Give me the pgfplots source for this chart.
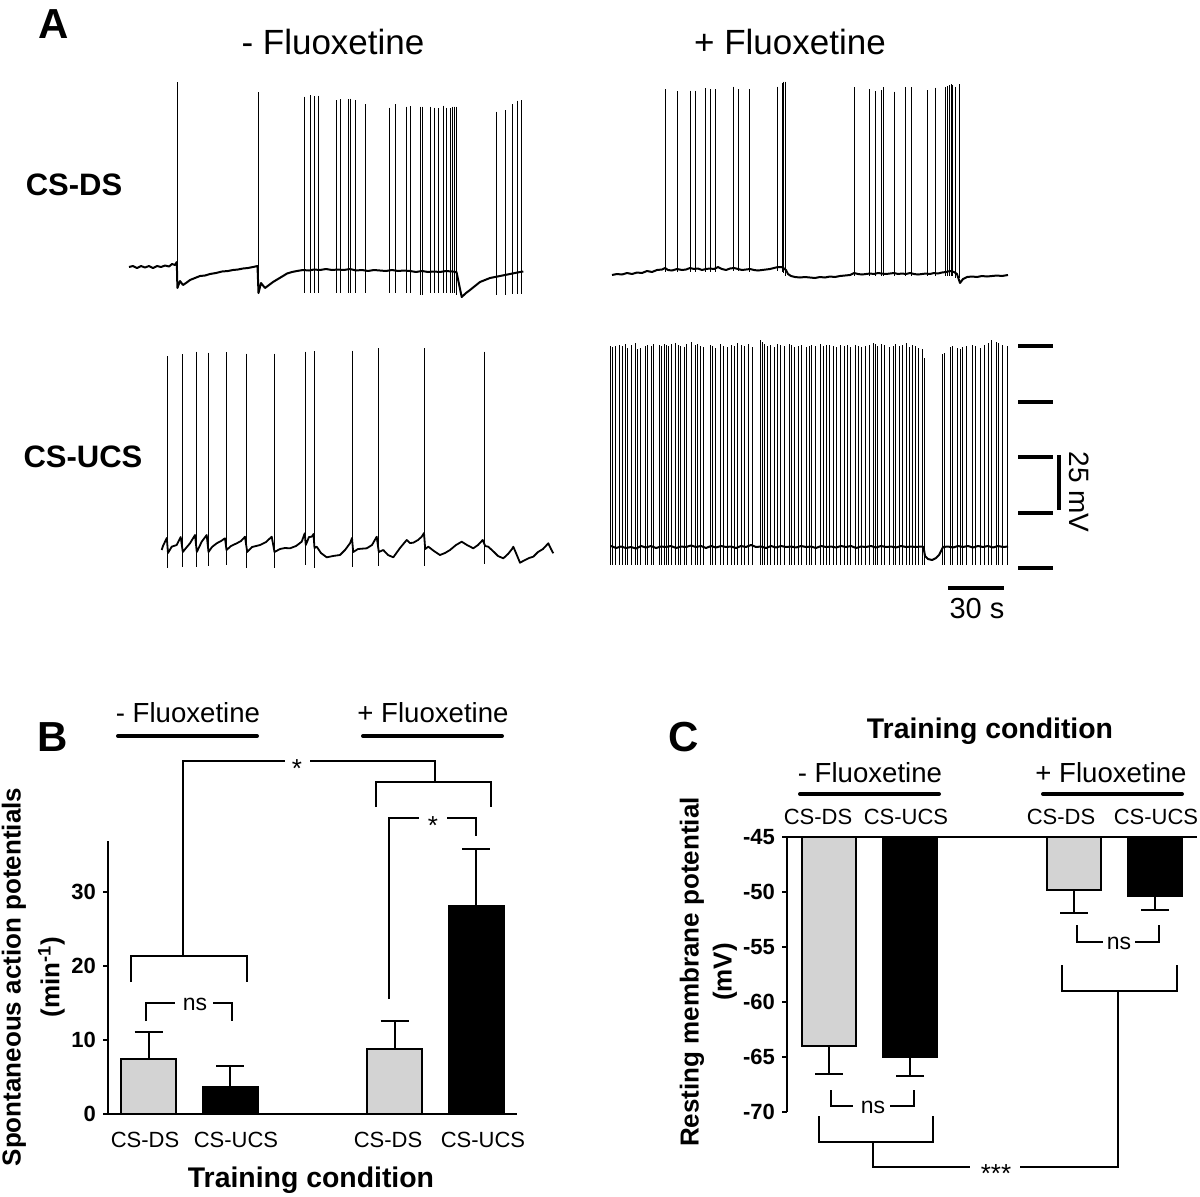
\documentclass[border=0pt]{standalone}
\usepackage{fontspec}
\setmainfont{Liberation Sans}
\usepackage{pgfplots}
\usepackage{pgfplotstable}
\pgfplotsset{compat=1.18}
\definecolor{lg}{RGB}{211,211,211}
\newcommand{\fs}[1]{\fontsize{#1}{#1}\selectfont}

% ---- Trace spikes (pixel coordinates: x, peak, trough) ----
\pgfplotstableread{
x top bot
177 82 288
258 92 293
304 96.7 293
310.7 95 293
314 96 293
318.7 95.7 293
336 100 293
340 99.3 293
348 99.3 293
350.7 98.7 293
355 100 293
365.7 104 293
389.3 107.7 293
395.7 104.3 293
406.3 106.7 293
410 106 293
420.7 106.7 295
422 106.7 295
430.7 106.7 293
434.3 107.7 293
438 108.3 293
443.3 105.7 293
446.7 107.7 293
450 108.3 293
452.7 106.7 293
454.3 106.7 293
456 106.7 295
496.7 111.7 295
505 110 295
512.7 104.3 294
517.7 100.7 294
521 100 294
}\spA

\pgfplotstableread{
x top bot
665 89.3 272
677.7 91 272
690.3 90.7 272
695 90.7 272
705.7 88.3 272
710.3 89.3 272
715.3 89.3 272
733.3 86.7 271
738.7 89.3 271
749 89 272
777.3 86.7 271
782.7 82.7 272
783.7 81.7 273
785 81.7 276
854.3 87.3 276
869.3 89.3 276
875.7 91 276
881 90 276
883 87.3 276
894.7 91.7 276
905 87.3 276
911.7 87.3 276
927.7 90 276
935.3 87.7 276
945.3 87.3 276
947.3 86 276
949.7 85 276
951.3 84.3 276
952.7 85 276
955.3 86.7 278
959.7 84 278
}\spB

\pgfplotstableread{
x top bot
167.3 356 568
182.3 354 567
196.3 351.7 567
208 352.7 566
226 352.3 565
246.7 353.7 568
274 353.7 568
305.3 351.7 565
314 351 568
352.7 350.7 567
378.3 348.3 566
424.7 348.3 566
484.7 351.7 564
}\spC

\pgfplotstableread{
x top
610.7 346
612.3 347
615 346
619 345
622.3 346
625.7 344
627.7 348
631 345
635.7 343
637.7 349
640 348
645 346
647.3 345
651 346
653.3 344
659 345
661 346
664.3 344
666.7 345
668.7 346
671 344
675.3 343
678 345
680.3 346
684 347
686.7 344
691.7 342
695 345
697.3 344
700.3 346
703.7 347
710.7 345
712.7 346
715 348
720 344
723.3 346
727 347
731.3 345
734.3 346
737.7 343
741.7 345
744.3 346
748 344
752.3 347
760.3 340
762 342
764.3 344
767 346
770.3 345
774 347
777.7 344
780 345
784 346
789 344
791.7 345
794.7 347
798.7 346
801 345
806.3 347
809.3 346
811.7 345
815.7 346
820 344
823 346
826 345
829.3 345
833.3 346
836.3 347
840.3 345
844 346
847.3 345
850.3 347
855 345
858.3 346
861.7 347
865.7 346
869.3 345
873.3 343
875.3 344
877.7 346
881.7 344
884.7 345
889 347
893.3 346
895.7 344
899.3 346
902.7 345
906 343
909.3 347
912.7 345
915.3 346
918.3 348
922 349
924.3 358
942.7 354
944 353
950 347
952.3 346
957 348
960 349
962.7 347
966.7 346
972.3 345
975 346
980 348
984.7 345
988.3 343
991.7 340
996 342
998.7 343
1002.7 345
1007.7 346
}\spD

\pgfplotsset{
  errb/.style={
    error bars/y explicit,
    error bars/error mark=|,
    error bars/error bar style={line width=1pt, black, solid},
    error bars/error mark options={black, line width=1pt, mark size=7pt, solid},
  },
}

\begin{document}
\begin{tikzpicture}
\useasboundingbox (0,0) rectangle (600pt,598pt);

% ================= Panel B =================
\begin{axis}[
  at={(54pt,41pt)}, anchor=south west, scale only axis,
  width=204.5pt, height=136.5pt,
  xmin=108, xmax=517, ymin=0, ymax=36.9,
  axis x line*=bottom, axis y line*=left,
  axis line style={line width=1.3pt, black},
  ytick={0,10,20,30}, yticklabels={0,10,20,30},
  yticklabel style={font=\fs{11}\bfseries},
  xtick={145,236,388,483},
  xticklabels={CS-DS,CS-UCS,CS-DS,CS-UCS},
  xticklabel style={font=\fs{11}, yshift=-3pt},
  x tick style={draw=none},
  y tick style={line width=1pt, black},
  tick align=outside, major tick length=2.5pt,
  ybar, bar width=55, bar shift=0pt,
]
\addplot[fill=lg, draw=black, line width=1pt, errb, error bars/y dir=plus]
  coordinates {(148.5,7.4) +- (0,3.7) (394.5,8.8) +- (0,3.8)};
\addplot[fill=black, draw=black, line width=1pt, errb, error bars/y dir=plus]
  coordinates {(230,3.65) +- (0,2.85) (476,28.1) +- (0,7.7)};
\end{axis}

% ================= Panel C =================
\begin{axis}[
  at={(393.5pt,42pt)}, anchor=south west, scale only axis,
  width=205pt, height=137.5pt,
  xmin=787, xmax=1197, ymin=-25, ymax=0,
  axis x line*=top, axis y line*=left,
  axis line style={line width=1.3pt, black},
  ytick={-25,-20,-15,-10,-5,0},
  yticklabels={-70,-65,-60,-55,-50,-45},
  yticklabel style={font=\fs{11}\bfseries},
  xtick={818,906,1061,1156},
  xticklabels={CS-DS,CS-UCS,CS-DS,CS-UCS},
  xticklabel style={font=\fs{11}},
  x tick style={draw=none},
  y tick style={line width=1pt, black},
  tick align=outside, major tick length=2.5pt,
  ybar, bar width=54, bar shift=0pt,
]
\addplot[fill=lg, draw=black, line width=1pt, errb, error bars/y dir=minus]
  table[x=x, y expr=\thisrow{v}+45, y error=e] {
x v e
828.5 -64.0 2.5
1073.5 -49.8 2.1
};
\addplot[fill=black, draw=black, line width=1pt, errb, error bars/y dir=minus]
  table[x=x, y expr=\thisrow{v}+45, y error=e] {
x v e
910 -65.0 1.7
1155 -50.4 1.2
};
\end{axis}

% ================= Overlay (pixel coordinates) =================
\begin{axis}[
  at={(0pt,0pt)}, anchor=south west, scale only axis,
  width=600pt, height=598pt,
  xmin=0, xmax=1200, ymin=0, ymax=1196, y dir=reverse,
  hide axis, clip=false,
]
% ---- trace 1 (CS-DS, - fluoxetine) ----
\addplot[black, line width=1pt, mark=none, line join=round] coordinates {
(129,267)(133,266)(137,268)(141,266)(145,267.5)(149,266)(153,268)(157,266)(161,267)(165,265.5)(169,266.5)(172,264)(175,265)(176.8,262)(177.4,288)(180,281)(183,285)(186,283)(190,280)(195,278)(200,276)(205,275.5)(210,274)(216,273)(222,271.5)(228,271)(233,270)(238,269.5)(243,268.5)(248,268)(253,267)(257.5,266)(258.5,293)(261,283)(265,288)(269,285)(273,282)(278,279)(283,276)(287,273.5)(292,272)(297,271)(303,270)(309,270.5)(314,269.5)(320,270)(326,269)(332,270)(338,269.5)(344,270)(350,269)(356,270.5)(362,270)(368,271)(374,270)(380,270.5)(386,271)(392,270)(398,271)(404,270.5)(410,271)(416,272)(422,271)(428,272)(434,271.5)(440,272)(446,271)(452,271.5)(456.5,272)(461.7,297)(466,293)(470,290)(475,286)(480,282)(485,280)(490,278)(495,277)(500,276)(505,275)(510,274)(515,273)(520,272)(523.3,271.5)
};
\addplot[draw=none, mark=none, error bars/.cd, y dir=plus, y explicit, error mark=none,
  error bar style={draw=black, line width=0.5pt}]
  table[x=x, y=top, y error expr=\thisrow{bot}-\thisrow{top}] {\spA};

% ---- trace 2 (CS-DS, + fluoxetine) ----
\addplot[black, line width=1pt, mark=none, line join=round] coordinates {
(612,275)(617,274)(622,274.5)(627,273)(632,274)(637,272.5)(642,273)(647,271)(652,272)(657,270)(662,269.5)(665,268)(668,270)(672,270.5)(677,269)(682,270)(686,269.5)(690,268)(694,269)(698,268.5)(702,270)(706,269)(710,268.5)(714,269)(718,267)(722,269)(726,270)(730,268.5)(734,268)(738,269)(742,270)(746,269.5)(750,269)(754,270)(758,270.5)(762,270)(766,269.5)(770,269)(774,268)(778,267)(782,267)(786,270)(788,274)(791,276)(795,277)(800,277.5)(805,277)(810,277.5)(815,278)(820,277)(825,277.5)(830,276.5)(835,277)(840,276)(845,275.5)(850,275)(854,273)(858,274)(862,274.5)(866,274)(870,273.5)(874,274)(878,273)(882,273.5)(886,274)(890,273.5)(894,273)(898,274)(902,273.5)(906,274)(910,273)(914,274)(918,274.5)(922,274)(926,273.5)(930,274)(934,273)(938,273.5)(942,272.5)(946,272)(950,271)(954,272)(957,274)(960,283)(963,279)(967,277)(972,276.5)(977,277)(982,276)(987,276.5)(992,276)(997,275.5)(1002,276)(1008,275)
};
\addplot[draw=none, mark=none, error bars/.cd, y dir=plus, y explicit, error mark=none,
  error bar style={draw=black, line width=0.5pt}]
  table[x=x, y=top, y error expr=\thisrow{bot}-\thisrow{top}] {\spB};

% ---- trace 3 (CS-UCS, - fluoxetine) ----
\addplot[black, line width=0.9pt, mark=none, line join=round] coordinates {
(161.7,550)(163,546)(165,541.7)(166.8,538)(168,553)(171.7,546.7)(176.7,545)(180.7,537)(182.8,552)(186,548)(190,543.3)(195,535)(196.8,552)(201.7,541.7)(206.7,535)(208.5,552)(212,547)(216.7,543.3)(221,541)(225,538.3)(226.5,550)(231,546)(236.7,543.3)(241,541)(245,536.7)(247.2,552)(252,547)(260,545)(266,542)(271.7,536.7)(274.5,552)(280,549)(285,548)(290,548.3)(296,546)(301.7,541.7)(304.7,533.3)(305.8,545)(309,537)(311.7,536.7)(313.5,534)(314.5,548)(316.7,546.7)(321,553)(326.7,557.3)(333,556)(340,555)(345,550)(350,543.3)(352,538)(353.2,552)(358,549)(366.7,548.3)(372,545)(376.7,536.7)(378.8,552)(383.3,550)(388,555)(393.3,557.3)(400,548)(406.7,540)(410,543)(413.3,542.7)(418,540)(421.7,536.7)(424,533)(425.2,549)(428.3,546.7)(434,551)(440,555)(445,553)(450,550)(456,545)(461.7,541.7)(467,545)(473.3,548.3)(478,545)(482.7,540)(485.2,546)(488.3,546.7)(494,552)(498,556)(503.3,558.3)(508,554)(512,549)(513.3,546.7)(516,553)(520,562.7)(525,560)(529,558)(533.3,556.7)(538,552)(543,549)(548.3,543.3)(551,549)(553.3,553.3)
};
\addplot[draw=none, mark=none, error bars/.cd, y dir=plus, y explicit, error mark=none,
  error bar style={draw=black, line width=0.5pt}]
  table[x=x, y=top, y error expr=\thisrow{bot}-\thisrow{top}] {\spC};

% ---- trace 4 (CS-UCS, + fluoxetine) ----
\addplot[black, line width=1pt, mark=none, line join=round] coordinates {
(611,546)(616,548)(621,546.5)(626,548)(631,547)(636,548.5)(641,546)(646,547.5)(651,546)(656,548)(661,546.5)(666,547)(671,546)(676,548)(681,546.5)(686,547)(691,545.5)(696,547)(701,546)(706,548)(711,546)(716,547.5)(721,546)(726,547)(731,546.5)(736,548)(741,546)(746,547)(751,545)(756,547)(761,546.5)(766,548)(771,546)(776,547.5)(781,546)(786,547)(791,546.5)(796,547.5)(801,546)(806,547)(811,546.5)(816,548)(821,546)(826,547)(831,546.5)(836,547.5)(841,546)(846,547)(851,546)(856,548)(861,546.5)(866,547)(871,546)(876,547.5)(881,546)(886,547)(891,546.5)(896,547.5)(901,546)(906,547)(911,546.5)(916,547)(921,546.5)(923.5,547)(925,556)(928,559)(932,560)(936,558)(939,555)(941.5,550)(943,547)(948,546.5)(953,547.5)(958,546)(963,547)(968,546)(973,547.5)(978,546)(983,547)(988,546)(993,547.5)(998,546)(1003,547)(1008,546.5)
};
\addplot[draw=none, mark=none, error bars/.cd, y dir=plus, y explicit, error mark=none,
  error bar style={draw=black, line width=0.5pt}]
  table[x=x, y=top, y error expr=565-\thisrow{top}] {\spD};

% ---- scale bars ----
\draw[line width=2pt] (1018,346)--(1053,346);
\draw[line width=2pt] (1018,402)--(1053,402);
\draw[line width=2pt] (1018,457)--(1053,457);
\draw[line width=2pt] (1018,513)--(1053,513);
\draw[line width=2pt] (1018,568)--(1053,568);
\draw[line width=2pt] (1059,455)--(1059,510);
\draw[line width=2pt] (948,588)--(1004,588);
\node[font=\fs{14}, rotate=-90] at (1079,492) {25 mV};
\node[font=\fs{14.5}] at (977,609) {30 s};

% ---- panel A text ----
\node[font=\fs{21}\bfseries] at (54,24) {A};
\node[font=\fs{17.5}] at (333,42) {- Fluoxetine};
\node[font=\fs{17.5}] at (790,42) {+ Fluoxetine};
\node[font=\fs{15.5}\bfseries] at (74,185) {CS-DS};
\node[font=\fs{15.5}\bfseries] at (83,457) {CS-UCS};

% ---- panel B annotations ----
\node[font=\fs{21}\bfseries] at (53,737) {B};
\node[font=\fs{13.8}, anchor=base] at (188,722) {- Fluoxetine};
\node[font=\fs{13.8}, anchor=base] at (433,722) {+ Fluoxetine};
\draw[line width=2pt, line cap=round] (118,736)--(257,736);
\draw[line width=2pt, line cap=round] (363,736)--(502,736);
\node[font=\fs{14.2}\bfseries, anchor=base] at (311,1187) {Training condition};
\node[font=\fs{13}\bfseries, rotate=90] at (14,977) {Spontaneous action potentials};
\node[font=\fs{13}\bfseries, rotate=90] at (51.5,977) {(min\textsuperscript{-1})};
\draw[line width=1pt] (131,982)--(131,956)--(247,956)--(247,982);
\draw[line width=1pt] (183,956)--(183,761)--(285,761);
\node[font=\fs{13}, anchor=base] at (297,777) {*};
\draw[line width=1pt] (310,761)--(435,761)--(435,782);
\draw[line width=1pt] (376,807)--(376,782)--(491,782)--(491,807);
\draw[line width=1pt] (389,999)--(389,818)--(419,818);
\node[font=\fs{13}, anchor=base] at (433,834) {*};
\draw[line width=1pt] (447,818)--(476,818)--(476,836);
\draw[line width=1pt] (146,1021)--(146,1003)--(175,1003);
\node[font=\fs{11.5}] at (195,1004) {ns};
\draw[line width=1pt] (213,1003)--(232,1003)--(232,1021);

% ---- panel C annotations ----
\node[font=\fs{21}\bfseries] at (684,737) {C};
\node[font=\fs{14.2}\bfseries, anchor=base] at (990,738) {Training condition};
\node[font=\fs{13.8}, anchor=base] at (870,782) {- Fluoxetine};
\node[font=\fs{13.8}, anchor=base] at (1111,782) {+ Fluoxetine};
\draw[line width=2pt, line cap=round] (800,794)--(939,794);
\draw[line width=2pt, line cap=round] (1043,794)--(1182,794);
\node[font=\fs{13}\bfseries, rotate=90] at (692,972) {Resting membrane potential};
\node[font=\fs{13}\bfseries, rotate=90] at (725,972) {(mV)};
\draw[line width=1pt] (831,1090)--(831,1106)--(853,1106);
\node[font=\fs{11.5}] at (873,1107) {ns};
\draw[line width=1pt] (890,1106)--(914,1106)--(914,1090);
\draw[line width=1pt] (1077,925)--(1077,942)--(1103,942);
\node[font=\fs{11.5}] at (1119,943) {ns};
\draw[line width=1pt] (1135,942)--(1159,942)--(1159,925);
\draw[line width=1pt] (819,1116)--(819,1142)--(933,1142)--(933,1116);
\draw[line width=1pt] (873,1142)--(873,1167)--(970,1167);
\node[font=\fs{13}, anchor=base] at (996,1182) {***};
\draw[line width=1pt] (1020,1167)--(1118,1167)--(1118,991);
\draw[line width=1pt] (1062,965)--(1062,991)--(1177,991)--(1177,965);
\end{axis}
\end{tikzpicture}
\end{document}
